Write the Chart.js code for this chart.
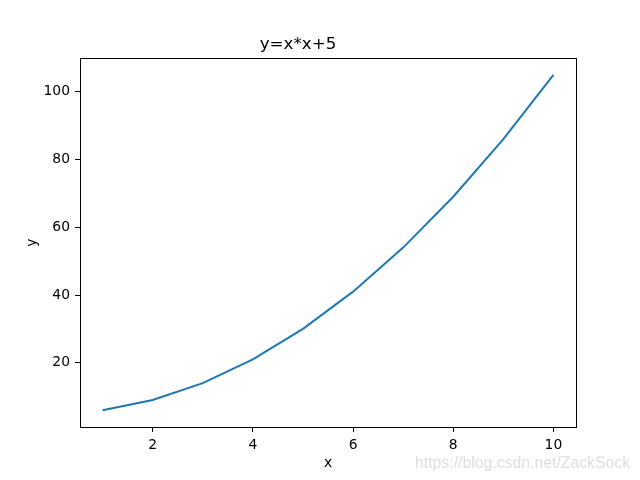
<!DOCTYPE html>
<html>
<head>
<meta charset="utf-8">
<script src="https://cdn.jsdelivr.net/npm/chart.js@4.4.1/dist/chart.umd.min.js"></script>
<style>
  html, body { margin: 0; padding: 0; background: #fff; }
  #wrap { width: 640px; height: 480px; position: relative; }
</style>
</head>
<body>
<div id="wrap"><canvas id="chart"></canvas></div>
<script>
// data
const xValues = [1, 2, 3, 4, 5, 6, 7, 8, 9, 10];
const yValues = [6, 9, 14, 21, 30, 41, 54, 69, 86, 105];
const xTicks = [2, 4, 6, 8, 10];
const yTicks = [20, 40, 60, 80, 100];

const font = "'DejaVu Sans', sans-serif";

// matplotlib-like box around the axes, plus the watermark
const framePlugin = {
  id: "frame",
  afterDraw: (chart) => {
    const { ctx, chartArea: a } = chart;
    ctx.save();
    ctx.strokeStyle = "#000";
    ctx.lineWidth = 1;
    ctx.strokeRect(Math.round(a.left) + 0.5, Math.round(a.top) + 0.5,
      Math.round(a.right - a.left), Math.round(a.bottom - a.top));

    ctx.font = "15.8px 'Liberation Sans', Arial, sans-serif";
    ctx.textBaseline = "alphabetic";
    ctx.fillStyle = "rgba(200,200,200,0.6)";
    ctx.fillText("https://blog.csdn.net/ZackSock", 415, 468);
    ctx.restore();
  },
};

const tickOpts = (ticks) => ({
  afterBuildTicks: (scale) => {
    scale.ticks = ticks.map((v) => ({ value: v }));
  },
});

new Chart(document.getElementById("chart"), {
  type: "scatter",
  data: {
    datasets: [
      {
        data: xValues.map((x, i) => ({ x: x, y: yValues[i] })),
        showLine: true,
        borderColor: "#1f77b4",
        borderWidth: 2,
        pointRadius: 0,
        pointHoverRadius: 0,
        tension: 0,
      },
    ],
  },
  options: {
    responsive: true,
    maintainAspectRatio: false,
    animation: false,
    layout: { padding: { left: 20, right: 64, top: 0, bottom: 0 } },
    plugins: {
      legend: { display: false },
      tooltip: { enabled: false },
      title: {
        display: true,
        text: "y=x*x+5",
        color: "#000",
        font: { family: font, size: 16.7, weight: "normal" },
        padding: { top: 35, bottom: 3 },
      },
    },
    scales: {
      x: {
        type: "linear",
        min: 0.55,
        max: 10.45,
        ...tickOpts(xTicks),
        afterFit: (scale) => { scale.height = 53; },
        grid: {
          drawOnChartArea: false,
          drawTicks: true,
          tickLength: 5,
          color: "#000",
        },
        border: { display: false },
        ticks: {
          color: "#000",
          padding: 5,
          font: { family: font, size: 13.9 },
          maxRotation: 0,
        },
        title: {
          display: true,
          text: "x",
          color: "#000",
          font: { family: font, size: 13.9 },
          padding: { top: 2, bottom: 8 },
        },
      },
      y: {
        type: "linear",
        min: 1.05,
        max: 109.95,
        ...tickOpts(yTicks),
        afterFit: (scale) => { scale.width = 60; },
        grid: {
          drawOnChartArea: false,
          drawTicks: true,
          tickLength: 5,
          color: "#000",
        },
        border: { display: false },
        ticks: {
          color: "#000",
          padding: 5,
          font: { family: font, size: 13.9 },
        },
        title: {
          display: true,
          text: "y",
          color: "#000",
          font: { family: font, size: 13.9 },
          padding: { top: 4, bottom: 4 },
        },
      },
    },
  },
  plugins: [framePlugin],
});
</script>
</body>
</html>
